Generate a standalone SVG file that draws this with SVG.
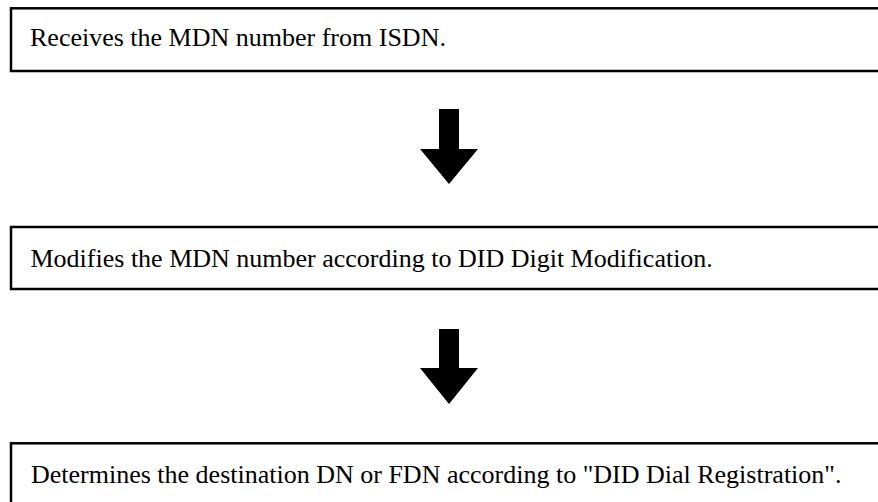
<svg xmlns="http://www.w3.org/2000/svg" width="878" height="502" viewBox="0 0 878 502">
<style>
.box{fill:#fff;stroke:#000;stroke-width:2.5}
.lbl{font-family:'Liberation Serif','Times New Roman',Times,'DejaVu Serif',serif;font-size:26px;fill:#000}
.arrow{fill:#000}
</style>
<rect x="0" y="0" width="878" height="502" fill="#fff"/>
<g id="node1">
<rect class="box" x="11" y="8.3" width="900" height="62.7"/>
<text class="lbl" x="30" y="45.7">Receives the MDN number from ISDN.</text>
</g>
<g id="node2">
<rect class="box" x="11" y="227" width="900" height="62"/>
<text class="lbl" x="30.5" y="266.5">Modifies the MDN number according to DID Digit Modification.</text>
</g>
<g id="node3">
<rect class="box" x="11" y="443.3" width="900" height="80"/>
<text class="lbl" x="31" y="483.3">Determines the destination DN or FDN according to "DID Dial Registration".</text>
</g>
<g id="connectors">
<polygon class="arrow" points="439,109 459,109 459,149 478,149 449,184 420,149 439,149"/>
<polygon class="arrow" points="439,329 459,329 459,368 478,368 449,404 420,368 439,368"/>
</g>
</svg>
